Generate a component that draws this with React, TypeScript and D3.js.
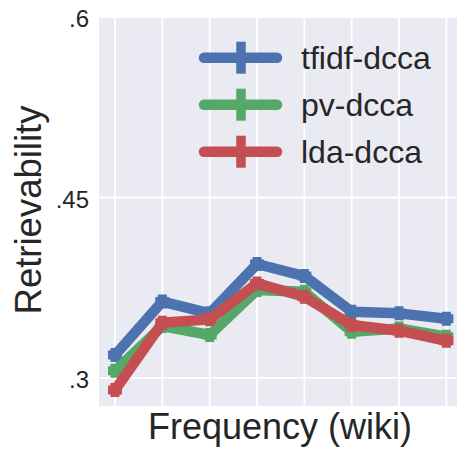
import React from 'react';
import * as d3 from 'd3';

const steps = [0, 1, 2, 3, 4, 5, 6, 7];
const tfidfDcca = [0.319, 0.3635, 0.3537, 0.3947, 0.3847, 0.3551, 0.3537, 0.3492];
const pvDcca = [0.306, 0.3431, 0.3357, 0.3731, 0.3717, 0.3384, 0.3412, 0.3343];
const ldaDcca = [0.290, 0.3459, 0.3487, 0.3786, 0.3675, 0.344, 0.3393, 0.3309];
const seriesNames = ['tfidf-dcca', 'pv-dcca', 'lda-dcca'];
const seriesColors = ['#4C72B0', '#55A868', '#C44E52'];
const yTicks = [0.3, 0.45, 0.6];
const yTickLabels = ['.3', '.45', '.6'];

const W = 457;
const H = 457;
const font = '"Liberation Sans", Arial, sans-serif';
const ink = '#262626';

const App = () => {
  const x = d3.scaleLinear().domain([-0.338, 7.33]).range([99, 462]);
  const y = d3.scaleLinear().domain([0.2767, 0.6]).range([406, 17]);

  const line = d3.line<number>()
    .x((d, i) => x(steps[i]))
    .y(d => y(d));

  const allSeries = [tfidfDcca, pvDcca, ldaDcca];

  return (
    <svg width={W} height={H} style={{ position: 'absolute', left: 0, top: 0 }}>
      <rect x={x.range()[0]} y={y.range()[1]} width={x.range()[1] - x.range()[0]} height={y.range()[0] - y.range()[1]} fill="#EAEAF2" />
      {steps.map(s => (
        <line key={'gx' + s} x1={x(s)} x2={x(s)} y1={y.range()[1]} y2={y.range()[0]} stroke="#fff" strokeWidth={1.8} />
      ))}
      {yTicks.map(t => (
        <line key={'gy' + t} x1={x.range()[0]} x2={x.range()[1]} y1={y(t)} y2={y(t)} stroke="#fff" strokeWidth={1.8} />
      ))}
      {yTicks.map((t, i) => (
        <text key={'ty' + t} x={89} y={y(t)} dy="0.42em" textAnchor="end" fontFamily={font} fontSize={24} fill={ink}>
          {yTickLabels[i]}
        </text>
      ))}
      {allSeries.map((vals, si) => (
        <g key={seriesNames[si]}>
          <path d={line(vals) || ''} fill="none" stroke={seriesColors[si]} strokeWidth={10.5} strokeLinejoin="round" />
          {vals.map((v, i) => (
            <path key={i} d={`M${x(steps[i])},${y(v) - 7}V${y(v) + 7}M${x(steps[i]) - 7},${y(v)}H${x(steps[i]) + 7}`}
              stroke={seriesColors[si]} strokeWidth={9} fill="none" />
          ))}
        </g>
      ))}
      {seriesNames.map((name, i) => {
        const ly = 57.7 + i * 47;
        return (
          <g key={'lg' + name}>
            <line x1={204} x2={277} y1={ly} y2={ly} stroke={seriesColors[i]} strokeWidth={10.5} strokeLinecap="round" />
            <line x1={241} x2={241} y1={ly - 16} y2={ly + 16} stroke={seriesColors[i]} strokeWidth={9.5} />
            <text x={301} y={ly} dy="0.36em" fontFamily={font} fontSize={32} fill={ink}>{name}</text>
          </g>
        );
      })}
      <text x={280} y={439} textAnchor="middle" fontFamily={font} fontSize={36} fill={ink}>Frequency (wiki)</text>
      <text transform={`translate(41,210) rotate(-90)`} textAnchor="middle" fontFamily={font} fontSize={36.5} fill={ink}>Retrievability</text>
    </svg>
  );
};

export default App;
